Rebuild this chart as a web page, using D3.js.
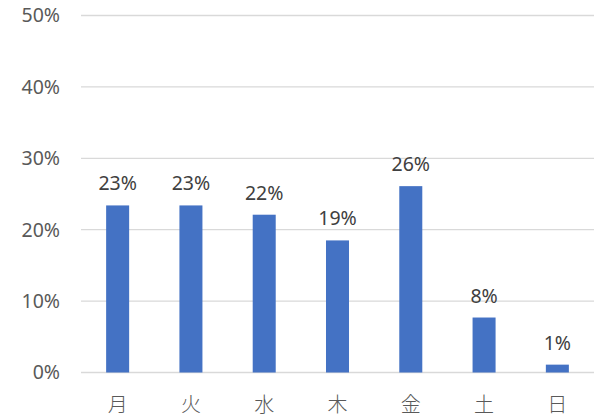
<!DOCTYPE html>
<html>
<head>
<meta charset="utf-8">
<script src="https://cdn.jsdelivr.net/npm/d3@7"></script>
<style>
  html, body { margin: 0; padding: 0; background: #ffffff; }
  svg { display: block; }
  .tick-label { font-family: "Noto Sans", "Open Sans", sans-serif; font-size: 19.5px; fill: #595959; }
  .value-label { font-family: "Noto Sans", "Open Sans", sans-serif; font-size: 19.5px; fill: #404040; }
  .cat-label { font-family: "Noto Sans CJK JP", sans-serif; font-size: 20px; font-weight: 300; fill: #595959; }
</style>
</head>
<body>
<div id="chart"></div>
<script>
const days = ["月", "火", "水", "木", "金", "土", "日"];
const shares = [23.4, 23.4, 22.1, 18.5, 26.1, 7.7, 1.1];
const yTicks = [0, 10, 20, 30, 40, 50];

const width = 608;
const height = 418;
const margin = { top: 15.5, right: 14, bottom: 45.5, left: 81 };

const svg = d3.select("#chart")
  .append("svg")
  .attr("width", width)
  .attr("height", height);

const x = d3.scaleBand()
  .domain(days)
  .range([margin.left, width - margin.right])
  .paddingInner(0.686)
  .paddingOuter(0.343);

const y = d3.scaleLinear()
  .domain([0, 50])
  .range([height - margin.bottom, margin.top]);

// gridlines
svg.append("g")
  .selectAll("line")
  .data(yTicks)
  .join("line")
  .attr("x1", margin.left)
  .attr("x2", width - margin.right)
  .attr("y1", d => y(d))
  .attr("y2", d => y(d))
  .attr("stroke", "#d9d9d9")
  .attr("stroke-width", 1.3);

// y tick labels
svg.append("g")
  .selectAll("text")
  .data(yTicks)
  .join("text")
  .attr("class", "tick-label")
  .attr("x", 60)
  .attr("y", d => y(d))
  .attr("dy", "0.35em")
  .attr("text-anchor", "end")
  .text(d => d + "%");

// bars
svg.append("g")
  .selectAll("rect")
  .data(shares)
  .join("rect")
  .attr("x", (d, i) => x(days[i]))
  .attr("y", d => y(d))
  .attr("width", x.bandwidth())
  .attr("height", d => y(0) - y(d))
  .attr("fill", "#4472c4");

// value labels
svg.append("g")
  .selectAll("text")
  .data(shares)
  .join("text")
  .attr("class", "value-label")
  .attr("x", (d, i) => x(days[i]) + x.bandwidth() / 2)
  .attr("y", d => y(d) - 15)
  .attr("text-anchor", "middle")
  .text(d => Math.round(d) + "%");

// category labels
svg.append("g")
  .selectAll("text")
  .data(days)
  .join("text")
  .attr("class", "cat-label")
  .attr("x", d => x(d) + x.bandwidth() / 2)
  .attr("y", 412)
  .attr("text-anchor", "middle")
  .text(d => d);
</script>
</body>
</html>
